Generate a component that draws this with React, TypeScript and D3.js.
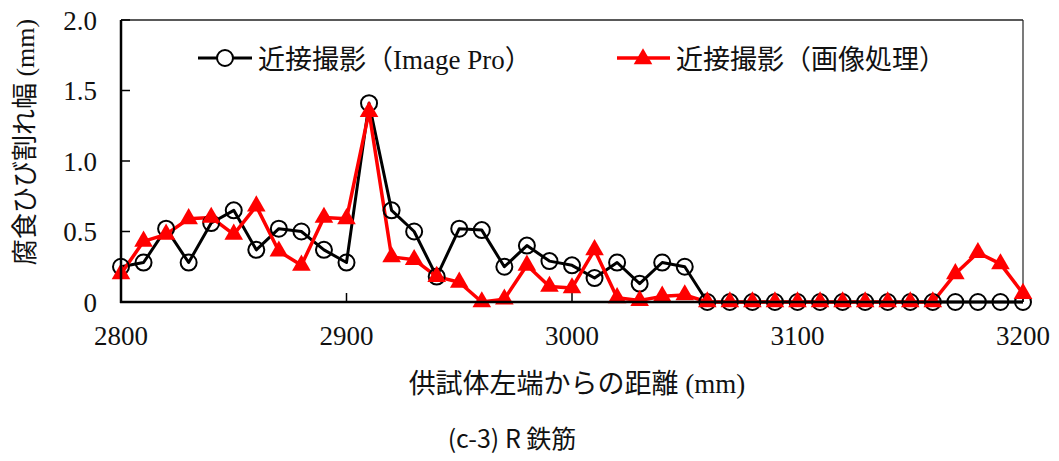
import React from "react";
import * as d3 from "d3";

// Distance from the left end of the specimen (mm)
const distances = d3.range(2800, 3201, 10);

// Corrosion crack width (mm) — close-up photography, Image Pro
const imagePro = [
  0.25, 0.28, 0.52, 0.28, 0.56, 0.65, 0.37, 0.52, 0.5, 0.37,
  0.28, 1.41, 0.65, 0.5, 0.18, 0.52, 0.51, 0.25, 0.4, 0.29,
  0.26, 0.17, 0.28, 0.13, 0.28, 0.25, 0, 0, 0, 0,
  0, 0, 0, 0, 0, 0, 0, 0, 0, 0, 0,
];

// Corrosion crack width (mm) — close-up photography, image processing
const imageProc = [
  0.2, 0.43, 0.48, 0.59, 0.6, 0.48, 0.68, 0.36, 0.26, 0.6,
  0.59, 1.35, 0.32, 0.3, 0.18, 0.14, 0, 0.02, 0.26, 0.11,
  0.1, 0.37, 0.03, 0.01, 0.04, 0.05, 0, 0, 0, 0,
  0, 0, 0, 0, 0, 0, 0, 0.2, 0.35, 0.27, 0.06,
];

const xTicks = [2800, 2900, 3000, 3100, 3200];
const yTicks = [0, 0.5, 1.0, 1.5, 2.0];
const yTickLabels = ["0", "0.5", "1.0", "1.5", "2.0"];

const seriesNames = ["近接撮影（Image Pro）", "近接撮影（画像処理）"];
const xTitle = "供試体左端からの距離 (mm)";
const yTitle = "腐食ひび割れ幅 (mm)";
const caption = "(c-3) R 鉄筋";

const W = 1059;
const H = 461;
const left = 121;
const right = 1023;
const top = 20;
const bottom = 302;

// numbers and Latin in a Times-metric serif; Japanese falls back to the CJK face
const numFont = "'Liberation Serif', 'Times New Roman', serif";
const mixedFont = "'Liberation Serif', 'Noto Sans CJK JP', serif";
const cjk = "'Noto Sans CJK JP', sans-serif";

export default function App() {
  const x = d3.scaleLinear().domain([2800, 3200]).range([left, right]);
  const y = d3.scaleLinear().domain([0, 2]).range([bottom, top]);
  const line = d3
    .line<number>()
    .x((_, i) => x(distances[i]))
    .y((d) => y(d));
  const tri = d3.symbol().type(d3.symbolTriangle).size(150)() as string;

  return (
    <svg
      width={W}
      height={H}
      lang="ja"
      style={{ position: "absolute", left: 0, top: 0, background: "#fff" }}
    >
      {/* plot frame */}
      <line x1={left} x2={right} y1={top} y2={top} stroke="#222" strokeWidth={1.5} />
      <line x1={right} x2={right} y1={top} y2={bottom} stroke="#222" strokeWidth={1.2} />

      {/* y ticks */}
      {yTicks.map((t, i) => (
        <g key={"y" + t}>
          <line x1={left} x2={left + 9} y1={y(t)} y2={y(t)} stroke="#000" strokeWidth={1.5} />
          <text
            x={left - 24}
            y={y(t) + 9.5}
            textAnchor="end"
            fontFamily={numFont}
            fontSize={27}
            fill="#111"
          >
            {yTickLabels[i]}
          </text>
        </g>
      ))}

      {/* x ticks */}
      {xTicks.map((t) => (
        <g key={"x" + t}>
          <line x1={x(t)} x2={x(t)} y1={bottom} y2={bottom - 9} stroke="#000" strokeWidth={1.5} />
          <text
            x={x(t)}
            y={bottom + 43}
            textAnchor="middle"
            fontFamily={numFont}
            fontSize={27}
            fill="#111"
          >
            {t}
          </text>
        </g>
      ))}

      {/* Image Pro series */}
      <path d={line(imagePro) ?? ""} fill="none" stroke="#000" strokeWidth={3} strokeLinejoin="round" />

      {/* image processing series */}
      <path d={line(imageProc) ?? ""} fill="none" stroke="#ff0000" strokeWidth={3.5} strokeLinejoin="round" />

      {imagePro.map((v, i) => (
        <circle
          key={"c" + i}
          cx={x(distances[i])}
          cy={y(v)}
          r={8}
          fill="none"
          stroke="#000"
          strokeWidth={2}
        />
      ))}
      {imageProc.map((v, i) => (
        <path
          key={"t" + i}
          d={tri}
          transform={`translate(${x(distances[i])},${y(v)})`}
          fill="#ff0000"
        />
      ))}

      {/* axes */}
      <line x1={left} x2={left} y1={top} y2={bottom + 1} stroke="#000" strokeWidth={2.5} />
      <line x1={left - 1} x2={right} y1={bottom} y2={bottom} stroke="#000" strokeWidth={2.5} />

      {/* legend */}
      <g>
        <line x1={198} x2={252} y1={58} y2={58} stroke="#000" strokeWidth={3} />
        <circle cx={225} cy={58} r={8} fill="#fff" stroke="#000" strokeWidth={2} />
        <text x={258} y={69} fontFamily={mixedFont} fontSize={27} fill="#111">
          {seriesNames[0]}
        </text>
        <line x1={617} x2={670} y1={58} y2={58} stroke="#ff0000" strokeWidth={3.5} />
        <path d={tri} transform="translate(643,59)" fill="#ff0000" />
        <text x={676} y={69} fontFamily={mixedFont} fontSize={27} fill="#111">
          {seriesNames[1]}
        </text>
      </g>

      {/* axis titles */}
      <text
        transform="translate(34,142) rotate(-90)"
        textAnchor="middle"
        fontFamily={mixedFont}
        fontSize={26}
        fill="#111"
      >
        {yTitle}
      </text>
      <text x={577} y={393} textAnchor="middle" fontFamily={mixedFont} fontSize={27} fill="#111">
        {xTitle}
      </text>
      <text x={512} y={448} textAnchor="middle" fontFamily={cjk} fontSize={25} fill="#111">
        {caption}
      </text>
    </svg>
  );
}
